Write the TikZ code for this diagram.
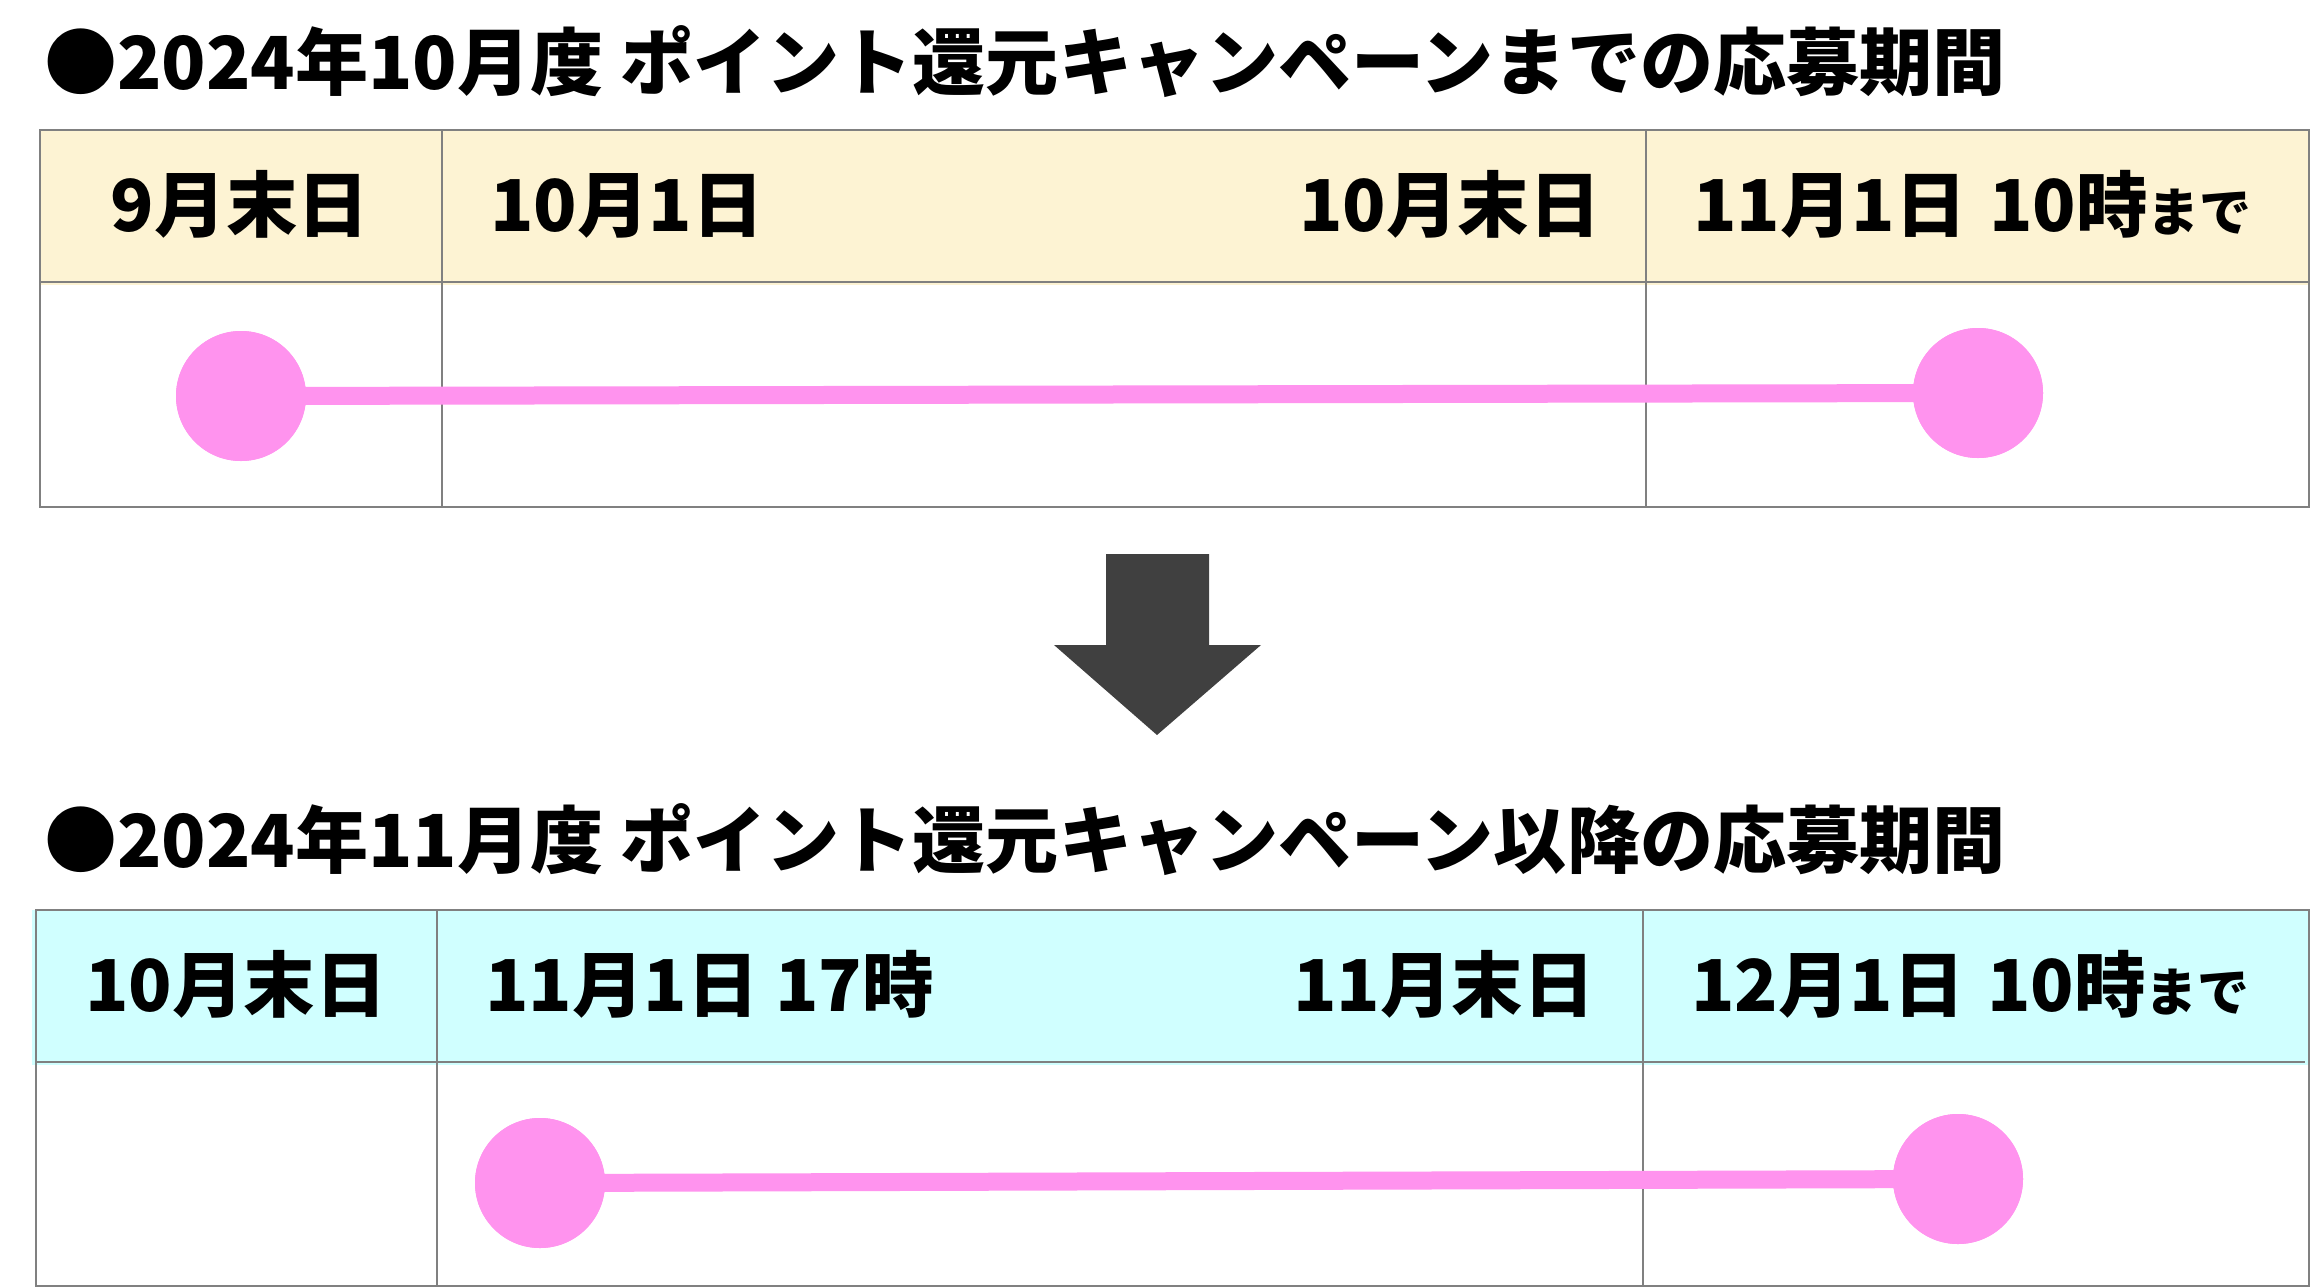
\documentclass[tikz,border=0pt]{standalone}
\usepackage{fontspec}
\newfontfamily\jp{Noto Sans CJK JP}
\definecolor{hdryellow}{HTML}{FDF3D3}
\definecolor{hdrcyan}{HTML}{D0FFFF}
\definecolor{dotpink}{HTML}{FF93EE}
\definecolor{gridgray}{HTML}{808080}
\definecolor{arrowgray}{HTML}{404040}
\tikzset{
  title/.style={font=\fontsize{73.1}{80}\jp\bfseries, inner sep=0pt, anchor=base west},
  hdr/.style={font=\fontsize{71.5}{78}\jp\bfseries, inner sep=0pt},
  dot/.style={circle, fill=dotpink, draw=none, minimum size=130pt, inner sep=0pt},
  span/.style={draw=dotpink, line width=18pt},
  outer/.style={draw=gridgray, line width=2pt},
  inner/.style={draw=gridgray, line width=1.5pt},
}
\newcommand{\madeB}{{\fontsize{52}{56}\jp\bfseries まで}}
\begin{document}
\begin{tikzpicture}[x=1pt,y=-1pt]
\useasboundingbox (0,0) rectangle (2311,1288);
\fill[white] (0,0) rectangle (2311,1288);

% ---------- Title 1 ----------
\node[title] (t1) at (44,89) {●2024年10月度 ポイント還元キャンペーンまでの応募期間};

% ---------- Table 1 ----------
\fill[hdryellow] (40,130) rectangle (2309,285);
\draw[inner] (442,130) -- (442,507);
\draw[inner] (1646,130) -- (1646,507);
\draw[outer] (40,282) -- (2309,282);
\draw[outer] (40,130) rectangle (2309,507);

\node[hdr, anchor=base] (h11) at (240,231) {9月末日};
\node[hdr, anchor=base west] (h12) at (490,231) {10月1日};
\node[hdr, anchor=base east] (h13) at (1601,231) {10月末日};
\node[hdr, anchor=base west] (h14) at (1693,231) {11月1日\hspace{6pt} 10時\madeB};

\node[dot] (c1a) at (241,396) {};
\node[dot] (c1b) at (1978,393) {};
\draw[span] (c1a.center) -- (c1b.center);
\node[dot] at (c1a) {};
\node[dot] at (c1b) {};

% ---------- Arrow ----------
\fill[arrowgray] (1106,554) -- (1209,554) -- (1209,645) -- (1261,645)
  -- (1157,735) -- (1054,645) -- (1106,645) -- cycle;

% ---------- Title 2 ----------
\node[title] (t2) at (44,867) {●2024年11月度 ポイント還元キャンペーン以降の応募期間};

% ---------- Table 2 ----------
\fill[hdrcyan] (32,910) rectangle (2309,1065);
\draw[inner] (437,910) -- (437,1286);
\draw[inner] (1643,910) -- (1643,1286);
\draw[outer] (36,1062) -- (2305,1062);
\draw[outer] (36,910) rectangle (2309,1286);

\node[hdr, anchor=base] (h21) at (236,1011) {10月末日};
\node[hdr, anchor=base west] (h22) at (485,1011) {11月1日 17時};
\node[hdr, anchor=base east] (h23) at (1595,1011) {11月末日};
\node[hdr, anchor=base west] (h24) at (1691,1011) {12月1日\hspace{6pt} 10時\madeB};

\node[dot] (c2a) at (540,1183) {};
\node[dot] (c2b) at (1958,1179) {};
\draw[span] (c2a.center) -- (c2b.center);
\node[dot] at (c2a) {};
\node[dot] at (c2b) {};
\end{tikzpicture}
\end{document}
